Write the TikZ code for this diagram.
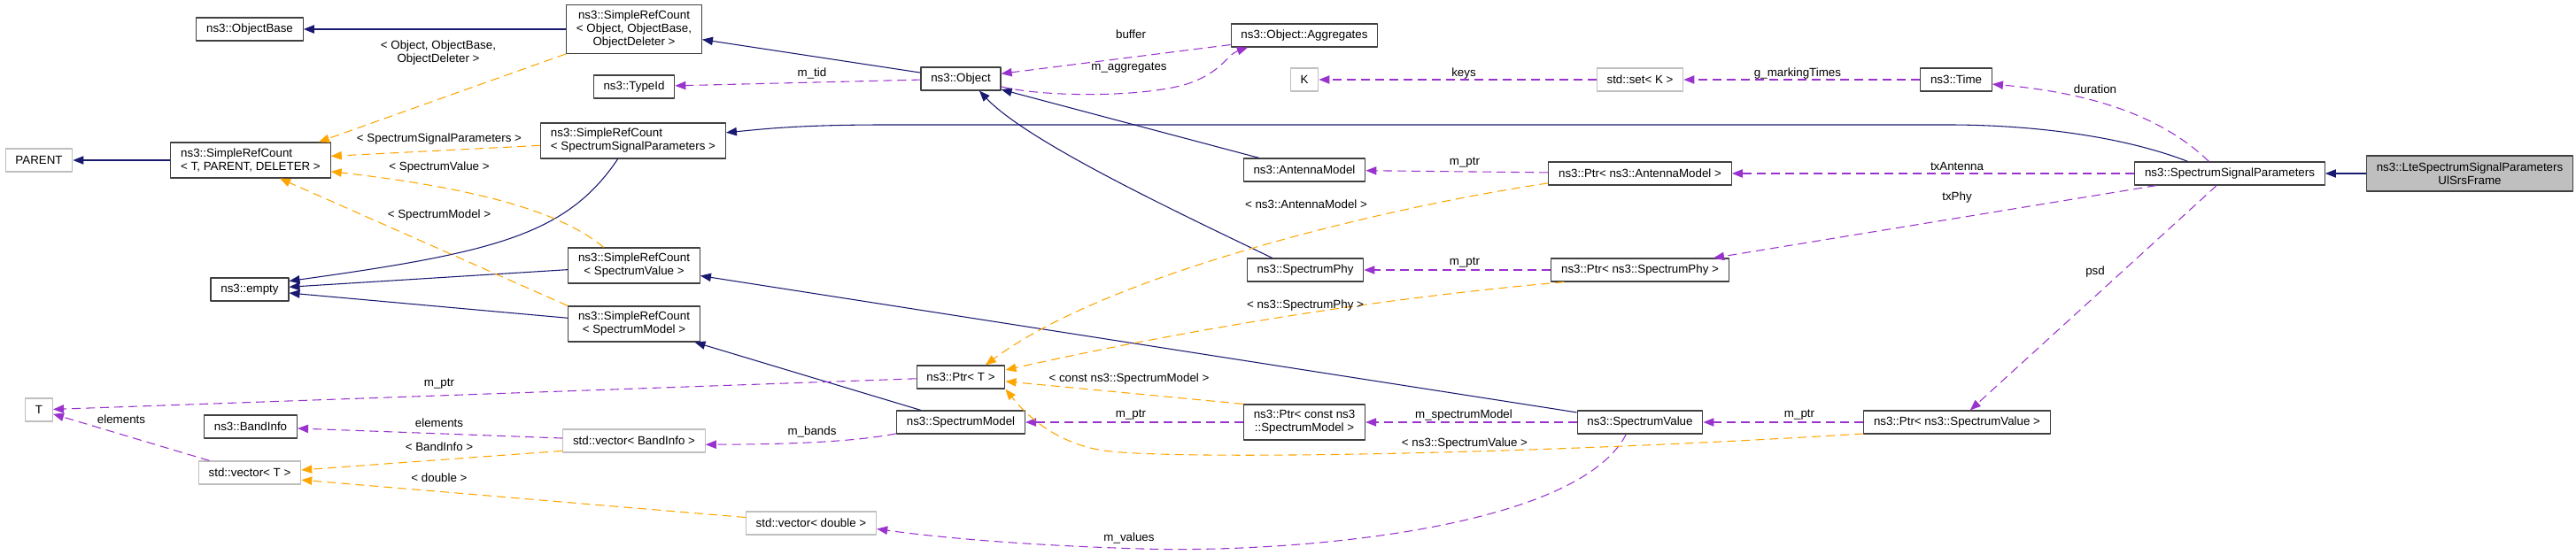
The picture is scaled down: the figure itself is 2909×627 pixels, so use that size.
\documentclass[tikz,border=0pt]{standalone}
\usepackage{fontspec}
\setmainfont{Liberation Sans}
\usetikzlibrary{arrows.meta}
\definecolor{inhblue}{HTML}{191970}
\definecolor{usepurple}{HTML}{9A32CD}
\definecolor{tplorange}{HTML}{FFA500}
\begin{document}
\begin{tikzpicture}[x=0.75pt, y=-0.75pt, font=\fontsize{10}{11.25}\selectfont, line join=round, >={Triangle[length=9pt,width=7pt]},
	cls/.style={draw=black!75, line width=0.9pt, fill=white, inner xsep=8.5pt, inner ysep=2pt, minimum height=19.5pt},
	ext/.style={cls, draw=black!25},
	main/.style={cls, fill=black!25},
	two/.style={minimum height=30pt},
	three/.style={minimum height=41pt},
	inh/.style={->, draw=inhblue, line width=0.8pt},
	use/.style={->, draw=usepurple, line width=0.8pt, dash pattern=on 7.5pt off 4.5pt},
	tpl/.style={->, draw=tplorange, line width=0.8pt, dash pattern=on 7.5pt off 4.5pt},
	lbl/.style={inner sep=0pt, align=center}]
			\useasboundingbox (0,0) rectangle (2909,627);
			% classes
			\node[cls] (objbase) at (282,33) {ns3::ObjectBase};
			\node[cls, three, align=center] (srcobj) at (716,33) {ns3::SimpleRefCount\\< Object, ObjectBase,\\ObjectDeleter >};
			\node[cls] (typeid) at (716,98) {ns3::TypeId};
			\node[cls] (object) at (1085,89) {ns3::Object};
			\node[cls] (aggr) at (1473,40) {ns3::Object::Aggregates};
			\node[ext] (kk) at (1473,90) {K};
			\node[ext] (setk) at (1852,90) {std::set< K >};
			\node[cls] (time) at (2209,90) {ns3::Time};
			\node[ext] (parent) at (44,181) {PARENT};
			\node[cls, two, align=left] (srct) at (283,181) {ns3::SimpleRefCount\\< T, PARENT, DELETER >};
			\node[cls, two, align=left] (srcssp) at (715,159) {ns3::SimpleRefCount\\< SpectrumSignalParameters >};
			\node[cls] (antenna) at (1473,192) {ns3::AntennaModel};
			\node[cls] (ptrant) at (1852,196) {ns3::Ptr< ns3::AntennaModel >};
			\node[cls] (ssp) at (2518,196) {ns3::SpectrumSignalParameters};
			\node[main, two, align=center] (lte) at (2789,196) {ns3::LteSpectrumSignalParameters\\UlSrsFrame};
			\node[cls] (empty) at (282,327) {ns3::empty};
			\node[cls, two, align=center] (srcsv) at (716,300) {ns3::SimpleRefCount\\< SpectrumValue >};
			\node[cls, two, align=center] (srcsm) at (716,366) {ns3::SimpleRefCount\\< SpectrumModel >};
			\node[cls] (specphy) at (1474,305) {ns3::SpectrumPhy};
			\node[cls] (ptrphy) at (1852,305) {ns3::Ptr< ns3::SpectrumPhy >};
			\node[cls] (ptrt) at (1085,426) {ns3::Ptr< T >};
			\node[ext] (tt) at (44,463) {T};
			\node[cls] (bandinfo) at (283,482) {ns3::BandInfo};
			\node[ext] (vecband) at (716,498) {std::vector< BandInfo >};
			\node[ext] (vect) at (282,534) {std::vector< T >};
			\node[cls] (specmodel) at (1085,477) {ns3::SpectrumModel};
			\node[cls, two, align=center] (ptrcsm) at (1473,477) {ns3::Ptr< const ns3\\::SpectrumModel >};
			\node[cls] (specvalue) at (1852,477) {ns3::SpectrumValue};
			\node[cls] (ptrsv) at (2210,477) {ns3::Ptr< ns3::SpectrumValue >};
			\node[ext] (vecdbl) at (916,591) {std::vector< double >};
			% inheritance
			\draw[inh] (srcobj) -- (objbase);
			\draw[inh] (object) -- (srcobj);
			\draw[inh] (srct) -- (parent);
			\draw[inh] (antenna) -- (object);
			\draw[inh] (specphy.160) .. controls (1330,240) and (1160,160) .. (object.-33);
			\draw[inh] (srcssp.-130) .. controls (640,265) and (560,285) .. (empty.12);
			\draw[inh] (srcsv) -- (empty);
			\draw[inh] (srcsm) -- (empty);
			\draw[inh] (ssp.164) .. controls (2400,155) and (2300,141) .. (2200,141) -- (1000,141) .. controls (900,141) and (860,146) .. (srcssp.5);
			\draw[inh] (specvalue) -- (srcsv);
			\draw[inh] (specmodel) -- (srcsm);
			\draw[inh] (lte) -- (ssp);
			% members
			\draw[use] (object) -- (typeid);
			\draw[use] (aggr) -- (object);
			\draw[use] (object.-11) .. controls (1180,110) and (1290,110) .. (1340,95) .. controls (1380,82) and (1385,62) .. (aggr.-168);
			\draw[use] (setk) -- (kk);
			\draw[use] (time) -- (setk);
			\draw[use] (ssp.150) .. controls (2440,130) and (2360,105) .. (time.-7);
			\draw[use] (ptrant) -- (antenna);
			\draw[use] (ssp) -- (ptrant);
			\draw[use] (ssp) -- (ptrphy);
			\draw[use] (ptrphy) -- (specphy);
			\draw[use] (ssp) -- (ptrsv);
			\draw[use] (ptrsv) -- (specvalue);
			\draw[use] (specvalue) -- (ptrcsm);
			\draw[use] (ptrcsm) -- (specmodel);
			\draw[use] (specmodel.-170) .. controls (960,500) and (880,502) .. (vecband.-3);
			\draw[use] (vecband) -- (bandinfo);
			\draw[use] (vect) -- (tt);
			\draw[use] (ptrt) -- (tt);
			\draw[use] (specvalue.-139) .. controls (1780,600) and (1450,625) .. (1290,620) .. controls (1150,616) and (1050,606) .. (vecdbl.-5);
			% template instances
			\draw[tpl] (srcobj.south west) -- (srct.15);
			\draw[tpl] (srcssp) -- (srct);
			\draw[tpl] (srcsv.149) .. controls (640,245) and (560,215) .. (srct.-8.5);
			\draw[tpl] (srcsm.north west) -- (srct.-32);
			\draw[tpl] (ptrant.-174) .. controls (1560,235) and (1250,310) .. (ptrt.26);
			\draw[tpl] (ptrphy.-171) .. controls (1558,337) and (1347,371) .. (ptrt.9);
			\draw[tpl] (ptrcsm.north west) -- (ptrt);
			\draw[tpl] (ptrsv.-173) .. controls (1700,515) and (1300,520) .. (1240,508) .. controls (1190,498) and (1160,470) .. (ptrt.south east);
			\draw[tpl] (vecband.-172) -- (vect.3);
			\draw[tpl] (vecdbl.175) -- (vect.-8);
			% labels
			\foreach \nm/\x/\y/\txt in {
				lsrcobj/495/60/{< Object, ObjectBase,\\ObjectDeleter >},
				lsrcssp/496/157/{< SpectrumSignalParameters >},
				lsrcsv/496/189/{< SpectrumValue >},
				lsrcsm/496/243/{< SpectrumModel >},
				ltid/917/83/{m\_tid},
				lbuf/1277/39/{buffer},
				laggr/1275/77/{m\_aggregates},
				lkeys/1653/83/{keys},
				lmark/2030/83/{g\_markingTimes},
				ldur/2366/101/{duration},
				lptrant/1654/184/{m\_ptr},
				ltxant/2210/188/{txAntenna},
				ltxphy/2210/223/{txPhy},
				ltplant/1475/231/{< ns3::AntennaModel >},
				lptrphy/1654/297/{m\_ptr},
				ltplphy/1474/345/{< ns3::SpectrumPhy >},
				lpsd/2366/307/{psd},
				ltplcsm/1275/428/{< const ns3::SpectrumModel >},
				lptrt/496/434/{m\_ptr},
				lptrcsm/1277/469/{m\_ptr},
				lspecm/1653/469/{m\_spectrumModel},
				lptrsv/2032/469/{m\_ptr},
				ltplsv/1654/501/{< ns3::SpectrumValue >},
				lelemt/137/474/{elements},
				lelemb/496/478/{elements},
				lbands/917/488/{m\_bands},
				ltplband/496/505/{< BandInfo >},
				ltpldbl/496/540/{< double >},
				lvalues/1275/608/{m\_values}}
				\node[lbl] (\nm) at (\x,\y) {\txt};
	\end{tikzpicture}
\end{document}
